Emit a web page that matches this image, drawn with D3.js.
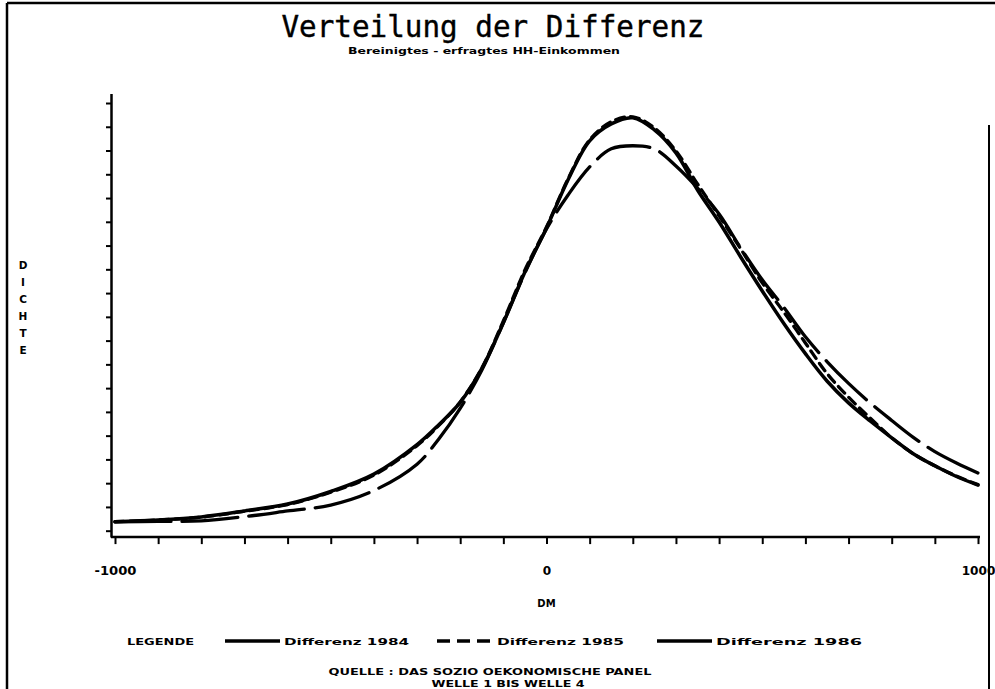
<!DOCTYPE html>
<html>
<head>
<meta charset="utf-8">
<script src="https://cdn.jsdelivr.net/npm/d3@7/dist/d3.min.js"></script>
<style>
  html, body { margin: 0; padding: 0; background: #fff; }
  svg { display: block; }
</style>
</head>
<body>
<svg id="chart" width="995" height="689"></svg>
<script>
// ---- data (density in tick units) ----
const dmValues = [-1000, -900, -800, -700, -600, -500, -400, -300, -250, -200, -150, -100, -50, 0, 50, 100, 150, 200, 250, 300, 350, 400, 450, 500, 550, 600, 650, 700, 750, 800, 850, 900, 950, 1000];
const dens1984 = [0.38, 0.45, 0.58, 0.83, 1.12, 1.65, 2.38, 3.62, 4.45, 5.40, 6.82, 8.75, 10.89, 12.74, 14.77, 16.41, 17.12, 17.38, 16.87, 15.90, 14.34, 12.99, 11.52, 10.09, 8.72, 7.45, 6.30, 5.38, 4.62, 3.91, 3.24, 2.73, 2.28, 1.92];
const dens1985 = [0.38, 0.45, 0.57, 0.82, 1.10, 1.62, 2.34, 3.58, 4.42, 5.42, 6.84, 8.83, 10.97, 12.78, 14.81, 16.45, 17.21, 17.42, 16.95, 15.98, 14.59, 13.25, 11.86, 10.43, 9.20, 7.90, 6.62, 5.62, 4.74, 3.91, 3.24, 2.73, 2.30, 1.94];
const dens1986 = [0.37, 0.39, 0.41, 0.59, 0.83, 1.08, 1.69, 2.80, 3.85, 5.15, 6.75, 8.75, 10.85, 12.70, 14.13, 15.31, 16.07, 16.20, 16.07, 15.35, 14.42, 13.33, 11.90, 10.56, 9.40, 8.16, 7.12, 6.20, 5.38, 4.64, 3.93, 3.33, 2.85, 2.43];
const seriesNames = ["Differenz 1984", "Differenz 1985", "Differenz 1986"];
const xTickValues = d3.range(-1000, 1001, 100);
const xTickLabels = ["-1000", "0", "1000"];
const yTickValues = d3.range(0, 19, 1);
const yLabelLetters = ["D", "I", "C", "H", "T", "E"];
const titleText = "Verteilung der Differenz";
const subtitleText = "Bereinigtes - erfragtes HH-Einkommen";
const xAxisTitle = "DM";
const legendTitle = "LEGENDE";
const sourceLines = ["QUELLE : DAS SOZIO OEKONOMISCHE PANEL", "WELLE 1 BIS WELLE 4"];

// ---- layout ----
const svg = d3.select("#chart");
const x = d3.scaleLinear().domain([-1000, 1000]).range([115, 978]);
const y = d3.scaleLinear().domain([-0.27, 18.4]).range([537.1, 93.5]);
const axisX0 = 111;
const font = "'DejaVu Sans', sans-serif";

// frame
const frame = svg.append("g").attr("stroke", "#000").attr("fill", "none");
frame.append("line").attr("x1", 7).attr("y1", 3).attr("x2", 995).attr("y2", 3).attr("stroke-width", 2.5);
frame.append("line").attr("x1", 7).attr("y1", 3).attr("x2", 7).attr("y2", 689).attr("stroke-width", 2.5);
frame.append("line").attr("x1", 989).attr("y1", 125).attr("x2", 989).attr("y2", 689).attr("stroke-width", 2);

// title
svg.append("text").attr("x", 493).attr("y", 36.5).attr("text-anchor", "middle")
  .attr("font-family", "'DejaVu Sans Mono', monospace").attr("font-size", 31)
  .attr("stroke", "#000").attr("stroke-width", 0.4)
  .attr("textLength", 423).attr("lengthAdjust", "spacingAndGlyphs")
  .text(titleText);
svg.append("text").attr("x", 484).attr("y", 54).attr("text-anchor", "middle")
  .attr("font-family", font).attr("font-weight", "bold").attr("font-size", 9.5)
  .attr("textLength", 272).attr("lengthAdjust", "spacingAndGlyphs")
  .text(subtitleText);

// y axis
const yAxis = d3.axisLeft(y).tickValues(yTickValues).tickSize(5).tickSizeOuter(0).tickFormat("");
const gy = svg.append("g").attr("transform", `translate(${axisX0},0)`).call(yAxis);
gy.select(".domain").attr("stroke-width", 2.5);
gy.selectAll(".tick line").attr("stroke-width", 2);

// x axis
const xAxis = d3.axisBottom(x).tickValues(xTickValues).tickSize(7).tickSizeOuter(0)
  .tickFormat(d => xTickLabels.includes(String(d)) ? String(d) : "");
const gx = svg.append("g").attr("transform", `translate(0,${y(-0.27)})`).call(xAxis);
gx.select(".domain").remove();
gx.append("line").attr("x1", axisX0).attr("x2", x(1000) + 2).attr("y1", 0).attr("y2", 0)
  .attr("stroke", "#000").attr("stroke-width", 2.5);
gx.selectAll(".tick line").attr("stroke-width", 2);
gx.selectAll(".tick text").attr("font-family", font).attr("font-weight", "bold")
  .attr("font-size", 12).attr("fill", "#000").attr("dy", 0).attr("y", 38)
  .attr("textLength", d => String(d).length * 8.4).attr("lengthAdjust", "spacingAndGlyphs");

svg.append("text").attr("x", x(0)).attr("y", 607).attr("text-anchor", "middle")
  .attr("font-family", font).attr("font-weight", "bold").attr("font-size", 10).text(xAxisTitle);

// y label (stacked letters)
svg.append("g").selectAll("text").data(yLabelLetters).join("text")
  .attr("x", 23).attr("y", (d, i) => 269 + i * 17).attr("text-anchor", "middle")
  .attr("font-family", font).attr("font-weight", "bold").attr("font-size", 10.5).text(d => d);

// curves
const styles = [
  { dash: null, width: 3.5 },
  { dash: "9,6", width: 3.3 },
  { dash: "56,11", width: 3.3 }
];
const allSeries = [dens1984, dens1985, dens1986];
const line = d3.line().x(d => x(d[0])).y(d => y(d[1])).curve(d3.curveCatmullRom.alpha(0.5));
svg.append("g").selectAll("path").data(allSeries).join("path")
  .attr("d", s => line(dmValues.map((v, i) => [v, s[i]])))
  .attr("fill", "none").attr("stroke", "#000")
  .attr("stroke-width", (s, i) => styles[i].width)
  .attr("stroke-dasharray", (s, i) => styles[i].dash)
  .attr("stroke-linecap", "round").attr("stroke-linejoin", "round");

// legend
const legY = 641;
const leg = svg.append("g");
leg.append("text").attr("x", 127).attr("y", legY + 4).attr("font-family", font).attr("font-weight", "bold")
  .attr("font-size", 9.5).attr("textLength", 67).attr("lengthAdjust", "spacingAndGlyphs").text(legendTitle);
const legItems = [
  { x1: 225, x2: 280, tx: 284, tw: 125, dash: null },
  { x1: 437, x2: 491, tx: 497, tw: 127, dash: "13,7" },
  { x1: 657, x2: 712, tx: 716, tw: 146, dash: null }
];
legItems.forEach((it, i) => {
  leg.append("line").attr("x1", it.x1).attr("x2", it.x2).attr("y1", legY).attr("y2", legY)
    .attr("stroke", "#000").attr("stroke-width", 3.3).attr("stroke-dasharray", it.dash);
  leg.append("text").attr("x", it.tx).attr("y", legY + 4).attr("font-family", font).attr("font-weight", "bold")
    .attr("font-size", 9.5).attr("textLength", it.tw).attr("lengthAdjust", "spacingAndGlyphs").text(seriesNames[i]);
});

// source
svg.append("text").attr("x", 490).attr("y", 675).attr("text-anchor", "middle")
  .attr("font-family", font).attr("font-weight", "bold").attr("font-size", 9.5)
  .attr("textLength", 323).attr("lengthAdjust", "spacingAndGlyphs").text(sourceLines[0]);
svg.append("text").attr("x", 508).attr("y", 687).attr("text-anchor", "middle")
  .attr("font-family", font).attr("font-weight", "bold").attr("font-size", 9)
  .attr("textLength", 153).attr("lengthAdjust", "spacingAndGlyphs").text(sourceLines[1]);
</script>
</body>
</html>
